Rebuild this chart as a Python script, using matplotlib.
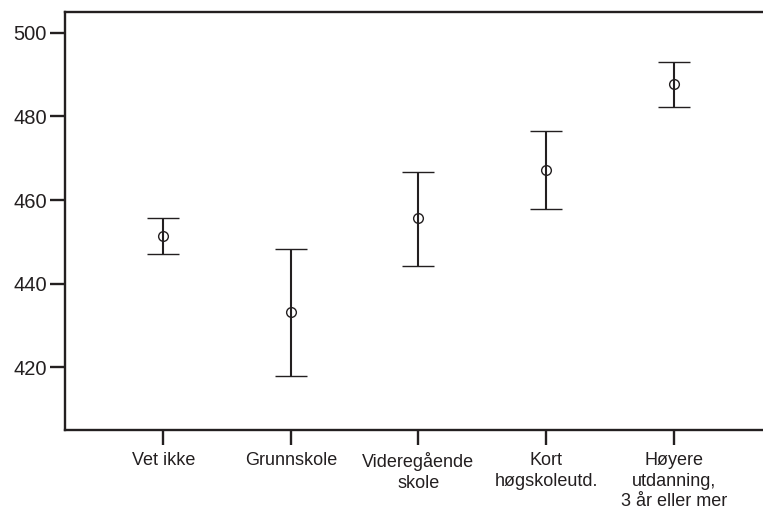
import matplotlib
matplotlib.use("Agg")
import matplotlib.pyplot as plt
import numpy as np

plt.rcParams['font.family'] = ['Liberation Sans', 'DejaVu Sans']

categories = ["Vet ikke", "Grunnskole", "Videregående\nskole", "Kort\nhøgskoleutd.",
              "Høyere\nutdanning,\n3 år eller mer"]
means = [451.5, 433.2, 455.6, 467.3, 487.8]
lower = [447.1, 418.0, 444.3, 457.9, 482.2]
upper = [455.8, 448.3, 466.8, 476.5, 493.0]
yticks = [420, 440, 460, 480, 500]

col = '#231f20'
fig = plt.figure(figsize=(7.63, 5.11), dpi=100)
ax = fig.add_axes([65/763, 1 - 430/511, 1 - 65/763, (430 - 12)/511])

x = np.arange(1, len(categories) + 1)
m = np.array(means)
yerr = np.vstack([m - np.array(lower), np.array(upper) - m])
ax.errorbar(x, m, yerr=yerr, fmt='o', color=col, ecolor=col, elinewidth=1.5,
            capsize=11.5, capthick=1.8, markersize=7, markerfacecolor='none',
            markeredgecolor=col, markeredgewidth=1.0)

ax.set_xlim(0.23, 5.70)
ax.set_ylim(405, 505)
ax.set_yticks(yticks)
ax.set_xticks(x)
ax.set_xticklabels(categories, fontsize=13.0, linespacing=1.27)
for lab in ax.get_yticklabels():
    lab.set_fontsize(14.5)
ax.tick_params(axis='both', direction='out', length=11, width=1.7, color=col, labelcolor=col)
ax.tick_params(axis='y', pad=2)
ax.tick_params(axis='x', pad=5)
for s in ['left', 'bottom', 'top']:
    ax.spines[s].set_linewidth(1.7)
    ax.spines[s].set_color(col)
ax.spines['right'].set_visible(False)

fig.savefig("out.png", dpi=100)
